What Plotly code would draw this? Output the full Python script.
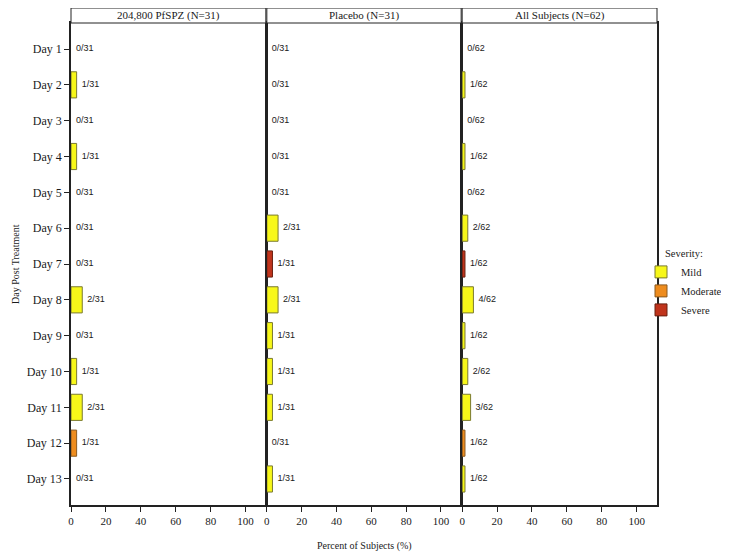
import plotly.graph_objects as go

# ---------------- data ----------------
days = [f"Day {i}" for i in range(1, 14)]
panel_titles = ["204,800 PfSPZ (N=31)", "Placebo (N=31)", "All Subjects (N=62)"]
panel_n = [31, 31, 62]

pfspz_counts = [0, 1, 0, 1, 0, 0, 0, 2, 0, 1, 2, 1, 0]
pfspz_sev = ["", "Mild", "", "Mild", "", "", "", "Mild", "", "Mild", "Mild", "Moderate", ""]

placebo_counts = [0, 0, 0, 0, 0, 2, 1, 2, 1, 1, 1, 0, 1]
placebo_sev = ["", "", "", "", "", "Mild", "Severe", "Mild", "Mild", "Mild", "Mild", "", "Mild"]

all_counts = [0, 1, 0, 1, 0, 2, 1, 4, 1, 2, 3, 1, 1]
all_sev = ["", "Mild", "", "Mild", "", "Mild", "Severe", "Mild", "Mild", "Mild", "Mild", "Moderate", "Mild"]

severities = ["Mild", "Moderate", "Severe"]
x_ticks = [0, 20, 40, 60, 80, 100]

# ---------------- styles ----------------
sev_fill = {"Mild": "#F7F719", "Moderate": "#EE8C1E", "Severe": "#C0341C"}
sev_edge = {"Mild": "#7A7A30", "Moderate": "#8A5A20", "Severe": "#6A2010"}
serif = "Liberation Serif, Times New Roman, serif"
sans = "Liberation Sans, Arial, sans-serif"
ink = "#1a1a1a"
NB = "\u00a0\u00a0"

# page body has an 8px margin, so the figure is sized/offset to compensate
W, H = 721, 546
ML, MR, MT, MB = 63, 72, 15, 49
plot_h = H - MT - MB
header_top = 1 + 15 / plot_h

panels = [
    (pfspz_counts, pfspz_sev),
    (placebo_counts, placebo_sev),
    (all_counts, all_sev),
]
domains = [[0.0, 0.3325], [0.3342, 0.6658], [0.6675, 1.0]]

fig = go.Figure()
shown = set()
for p, (counts, sevs) in enumerate(panels):
    xa = "x" if p == 0 else f"x{p+1}"
    ya = "y" if p == 0 else f"y{p+1}"
    n = panel_n[p]
    pct = [100.0 * c / n for c in counts]
    for s in severities:
        xs = [v if sv == s else None for v, sv in zip(pct, sevs)]
        if all(v is None for v in xs):
            continue
        fig.add_trace(go.Bar(
            x=xs, y=days, orientation="h", width=0.73,
            marker=dict(color=sev_fill[s], line=dict(color=sev_edge[s], width=1)),
            name=s, legendgroup=s, showlegend=(s not in shown),
            legendrank=severities.index(s) + 1,
            xaxis=xa, yaxis=ya, hoverinfo="skip",
        ))
        shown.add(s)
    fig.add_trace(go.Scatter(
        x=pct, y=days, mode="text",
        text=[f"{NB}{c}/{n}" for c in counts],
        textposition="middle right",
        textfont=dict(family=sans, size=9, color=ink),
        showlegend=False, xaxis=xa, yaxis=ya, hoverinfo="skip",
    ))

axis_common = dict(showline=True, linecolor="#222", linewidth=1.5, mirror=True,
                   showgrid=False, zeroline=False)
layout = dict(
    width=W, height=H,
    margin=dict(l=ML, r=MR, t=MT, b=MB, autoexpand=False),
    paper_bgcolor="white", plot_bgcolor="white",
    barmode="overlay",
    font=dict(family=serif, color=ink),
    legend=dict(
        title=dict(text="Severity:", side="top center",
                   font=dict(family=serif, size=10.5, color=ink)),
        font=dict(family=serif, size=10.5, color=ink),
        x=0.9727, xanchor="left", y=0.542, yanchor="top",
        bgcolor="rgba(0,0,0,0)", itemwidth=30, tracegroupgap=0,
    ),
)
for p in range(3):
    xk = "xaxis" if p == 0 else f"xaxis{p+1}"
    yk = "yaxis" if p == 0 else f"yaxis{p+1}"
    layout[xk] = dict(
        axis_common, domain=domains[p], range=[0, 111.6],
        tickvals=x_ticks, ticks="outside", ticklen=5, tickcolor="#222",
        tickfont=dict(family=serif, size=11, color=ink),
        anchor="y" if p == 0 else f"y{p+1}",
    )
    layout[yk] = dict(
        axis_common, domain=[0, 1], type="category",
        categoryorder="array", categoryarray=days,
        range=[12.726, -0.726],
        anchor="x" if p == 0 else f"x{p+1}",
        ticks="outside" if p == 0 else "", ticklen=5, tickcolor="#222",
        showticklabels=(p == 0),
        tickfont=dict(family=serif, size=12, color=ink),
    )
fig.update_layout(**layout)

# panel header strips
for p in range(3):
    d = domains[p]
    fig.add_shape(type="rect", xref="paper", yref="paper",
                  x0=d[0], x1=d[1], y0=1, y1=header_top,
                  line=dict(color="#222", width=1), fillcolor="white")
    fig.add_annotation(xref="paper", yref="paper",
                       x=(d[0] + d[1]) / 2, y=(1 + header_top) / 2,
                       text=panel_titles[p], showarrow=False,
                       font=dict(family=serif, size=11, color=ink),
                       xanchor="center", yanchor="middle")

fig.add_annotation(xref="paper", yref="paper", x=0.5, y=-0.085,
                   text="Percent of Subjects (%)", showarrow=False,
                   font=dict(family=serif, size=10, color=ink),
                   xanchor="center", yanchor="middle")
fig.add_annotation(xref="paper", yref="paper", x=-0.0956, y=0.5,
                   text="Day Post Treatment", showarrow=False, textangle=-90,
                   font=dict(family=serif, size=10, color=ink),
                   xanchor="center", yanchor="middle")

fig.write_html("out.html")
